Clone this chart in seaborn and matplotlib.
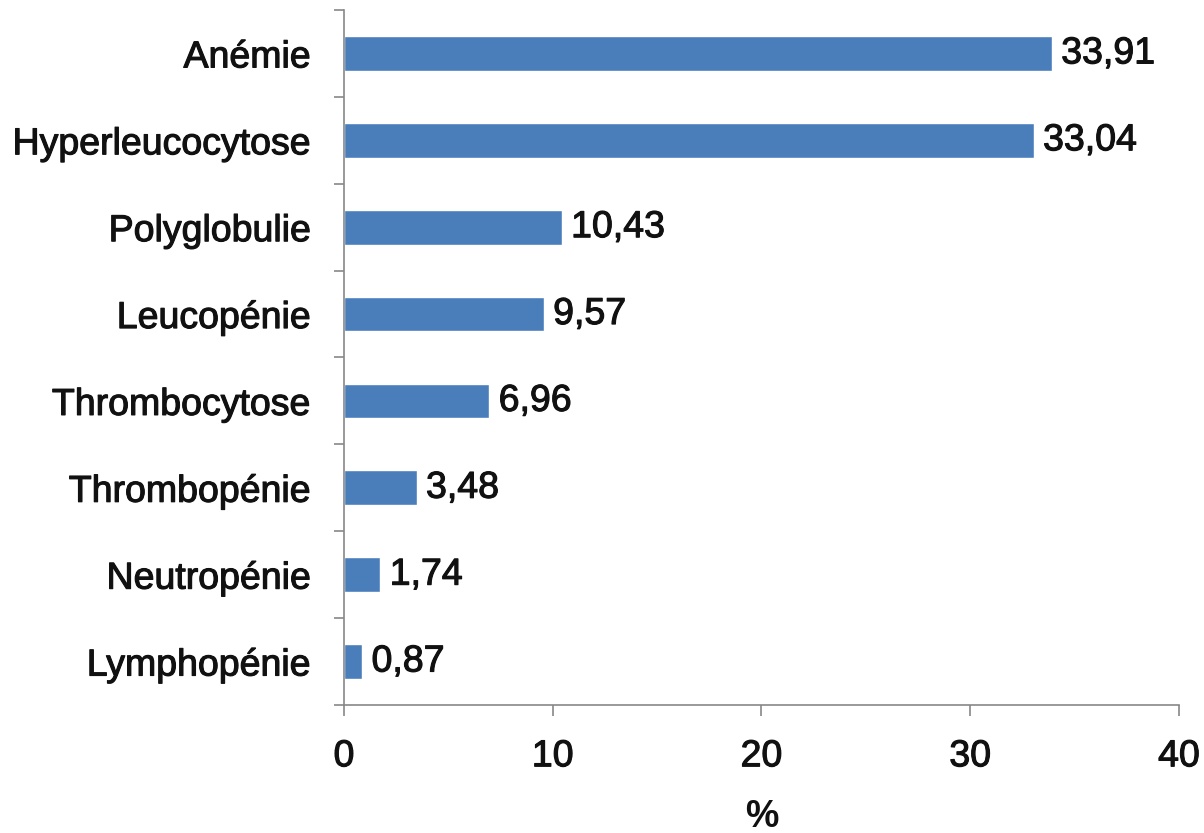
import matplotlib
matplotlib.use("Agg")
import matplotlib.pyplot as plt
import matplotlib.patheffects as pe
import seaborn as sns
import pandas as pd
from matplotlib.ticker import FixedLocator

categories = [
    "Anémie", "Hyperleucocytose", "Polyglobulie", "Leucopénie",
    "Thrombocytose", "Thrombopénie", "Neutropénie", "Lymphopénie",
]
values = [33.91, 33.04, 10.43, 9.57, 6.96, 3.48, 1.74, 0.87]
value_labels = ["33,91", "33,04", "10,43", "9,57", "6,96", "3,48", "1,74", "0,87"]
x_ticks = [0, 10, 20, 30, 40]

BAR_COLOR = "#4a7ebb"
AXIS_COLOR = "#888888"
TEXT_COLOR = "#111111"
FS = 27
# slightly heavier strokes, like the blurred Arial of the original
heavy = [pe.withStroke(linewidth=0.8, foreground=TEXT_COLOR)]

sns.set_theme(style="white")
plt.rcParams["font.family"] = ["Liberation Sans", "DejaVu Sans"]

df = pd.DataFrame({"cat": categories, "val": values})

fig = plt.figure(figsize=(12.04, 8.33), dpi=100)
ax = fig.add_axes([0.2857, 0.1537, 0.6935, 0.8343])

sns.barplot(data=df, x="val", y="cat", orient="h", color=BAR_COLOR,
            width=0.4, saturation=1, ax=ax)

# value labels to the right of each bar
for i, (v, lab) in enumerate(zip(values, value_labels)):
    ax.text(v + 0.45, i, lab, va="center", ha="left", fontsize=FS,
            color=TEXT_COLOR, path_effects=heavy)

ax.set_xlim(0, 40)
ax.set_ylim(len(categories) - 0.5, -0.5)
ax.set_xticks(x_ticks)
ax.set_xticklabels([str(t) for t in x_ticks], fontsize=FS, path_effects=heavy)
ax.set_yticks(range(len(categories)))
ax.set_yticklabels(categories, fontsize=FS, path_effects=heavy)
ax.yaxis.set_minor_locator(FixedLocator([i - 0.5 for i in range(len(categories) + 1)]))

ax.tick_params(axis="y", which="major", length=0, pad=24, colors=TEXT_COLOR)
ax.tick_params(axis="y", which="minor", length=7.5, width=1.2, color=AXIS_COLOR, direction="out", left=True)
ax.tick_params(axis="x", which="major", length=8, width=1.2, color=AXIS_COLOR, direction="out",
               bottom=True, pad=16, labelcolor=TEXT_COLOR)

for side in ["top", "right"]:
    ax.spines[side].set_visible(False)
for side in ["left", "bottom"]:
    ax.spines[side].set_color(AXIS_COLOR)
    ax.spines[side].set_linewidth(1.2)

ax.set_ylabel("")
ax.set_xlabel("%", fontsize=FS, fontweight="bold", color=TEXT_COLOR, labelpad=18)

fig.savefig("out.png", dpi=100)
plt.close(fig)
